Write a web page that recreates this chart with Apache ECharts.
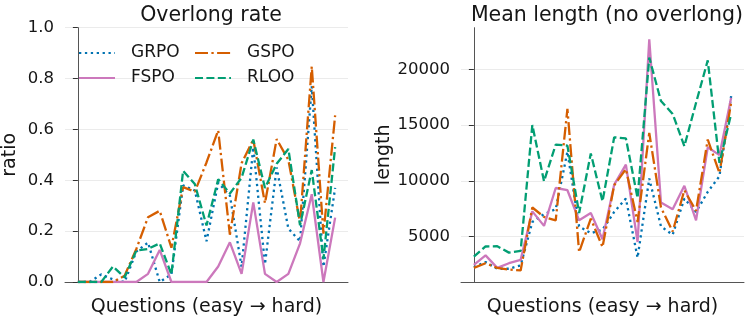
<!DOCTYPE html>
<html>
<head>
<meta charset="utf-8">
<script src="https://cdn.jsdelivr.net/npm/echarts@6/dist/echarts.min.js"></script>
<style>html,body{margin:0;padding:0;background:#fff}#chart{width:747px;height:322px}</style>
</head>
<body>
<div id="chart"></div>
<script>
// question index, easy -> hard
var questions = [0,1,2,3,4,5,6,7,8,9,10,11,12,13,14,15,16,17,18,19,20,21,22];

// overlong rate (ratio)
var grpoRate = [0,0,0.03,0.01,0,0.12,0.155,0,0.03,0.38,0.36,0.16,0.39,0.34,0.06,0.53,0.07,0.45,0.21,0.16,0.77,0.06,0.37];
var fspoRate = [0,0,0,0,0,0,0.032,0.126,0,0,0,0,0.061,0.156,0.032,0.313,0.032,0,0.032,0.152,0.345,0,0.253];
var gspoRate = [0,0,0,0,0.025,0.13,0.255,0.28,0.135,0.373,0.355,0.47,0.596,0.186,0.467,0.56,0.31,0.562,0.48,0.234,0.848,0.19,0.655];
var rlooRate = [0,0,0,0.061,0.018,0.124,0.13,0.152,0.03,0.437,0.385,0.222,0.404,0.348,0.41,0.56,0.37,0.465,0.523,0.223,0.44,0.09,0.53];

// mean length without overlong responses
var grpoLen = [2250,2700,2100,2100,2400,6300,7000,7450,12600,5900,5300,5600,7200,8400,3100,10200,5900,5150,8400,7200,9000,10400,17600];
var fspoLen = [2450,3300,2180,2600,2900,7250,5950,9350,9150,6450,7100,4750,9650,11450,4500,22700,8050,7450,9550,6450,13000,12300,17450];
var gspoLen = [2180,2600,2180,2030,1950,7600,6750,6450,16450,3600,6600,4050,9600,11050,6300,14300,7600,5450,9150,7300,13700,10700,17000];
var rlooLen = [3180,4100,4120,3550,3700,15000,9950,13250,13150,7100,12450,8150,13900,13800,8450,21050,17150,16000,13100,17000,20800,11600,16000];

var rateTicks = [0, 0.2, 0.4, 0.6, 0.8, 1.0];
var lenTicks = [5000, 10000, 15000, 20000];

var FONT = 'DejaVu Sans';
var INK = '#161616';

function pairs(ys) {
	return questions.map(function (q, i) { return [q, ys[i]]; });
}

// matplotlib style dash patterns
var styles = {
	GRPO: { color: '#0173b2', type: [2.3, 3.6] },
	FSPO: { color: '#cc78bc', type: 'solid' },
	GSPO: { color: '#d55e00', type: [13, 3.4, 2.3, 3.4] },
	RLOO: { color: '#029e73', type: [8, 3.4] }
};

function line(name, ys, idx) {
	var s = styles[name];
	return {
		name: name, type: 'line', xAxisIndex: idx, yAxisIndex: idx,
		data: pairs(ys), symbol: 'none', animation: false,
		color: s.color,
		itemStyle: { color: s.color, opacity: 0 },
		lineStyle: { color: s.color, width: 2.3, type: s.type, cap: 'butt' }
	};
}

var lenAll = grpoLen.concat(fspoLen, gspoLen, rlooLen);
var lenMin = Math.min.apply(null, lenAll), lenMax = Math.max.apply(null, lenAll);
var pad = (lenMax - lenMin) * 0.05;

var xMargin = (questions[questions.length - 1] - questions[0]) * 0.05;

function xAxis(idx) {
	return {
		type: 'value', gridIndex: idx,
		min: questions[0] - xMargin, max: questions[questions.length - 1] + xMargin,
		axisLine: { show: true, lineStyle: { color: '#555', width: 1 } },
		axisTick: { show: false }, axisLabel: { show: false }, splitLine: { show: false },
		name: 'Questions (easy \u2192 hard)', nameLocation: 'middle', nameGap: 16,
		nameTextStyle: { fontFamily: FONT, fontSize: 19, color: INK }
	};
}

function yAxisBase(idx, name, gap) {
	return {
		type: 'value', gridIndex: idx,
		axisLine: { show: true, lineStyle: { color: '#555', width: 1 } },
		axisTick: { show: true, length: 5, lineStyle: { color: '#333' } },
		axisLabel: { fontFamily: FONT, fontSize: 16.5, color: INK, margin: 11 },
		splitLine: { show: true, lineStyle: { color: '#ebebeb', width: 1 } },
		name: name, nameLocation: 'middle', nameGap: gap, nameRotate: 90,
		nameTextStyle: { fontFamily: FONT, fontSize: 19, color: INK }
	};
}

var yRate = yAxisBase(0, 'ratio', 45);
yRate.min = rateTicks[0];
yRate.max = rateTicks[rateTicks.length - 1];
yRate.interval = 0.2;
yRate.axisLabel.formatter = function (v) { return v.toFixed(1); };

var yLen = yAxisBase(1, 'length', 66);
yLen.min = lenMin - pad;
yLen.max = lenMax + pad;
yLen.axisTick.customValues = lenTicks;
yLen.axisLabel.customValues = lenTicks;
yLen.axisLabel.formatter = function (v) { return String(v); };

var legendCommon = {
	orient: 'vertical', itemWidth: 36, itemHeight: 14, itemGap: 5,
	itemStyle: { opacity: 0 },
	textStyle: { fontFamily: FONT, fontSize: 17, color: INK, lineHeight: 20, padding: [0, 0, 0, 11] }
};

var chart = echarts.init(document.getElementById('chart'), null, { renderer: 'canvas' });
chart.setOption({
	backgroundColor: '#fff',
	animation: false,
	title: [
		{ text: 'Overlong rate', left: 206, top: 0, textAlign: 'center',
		  textStyle: { fontFamily: FONT, fontSize: 20.5, fontWeight: 'normal', color: INK } },
		{ text: 'Mean length (no overlong)', left: 602, top: 0, textAlign: 'center',
		  textStyle: { fontFamily: FONT, fontSize: 20.5, fontWeight: 'normal', color: INK } }
	],
	legend: [
		Object.assign({}, legendCommon, { data: ['GRPO', 'FSPO'], left: 73, top: 38 }),
		Object.assign({}, legendCommon, { data: ['GSPO', 'RLOO'], left: 189, top: 38 })
	],
	grid: [
		{ left: 64, top: 27.7, width: 284, height: 267 },
		{ left: 461, top: 27.7, width: 283, height: 267 }
	],
	xAxis: [xAxis(0), xAxis(1)],
	yAxis: [yRate, yLen],
	series: [
		line('GRPO', grpoRate, 0), line('FSPO', fspoRate, 0), line('GSPO', gspoRate, 0), line('RLOO', rlooRate, 0),
		line('GRPO', grpoLen, 1), line('FSPO', fspoLen, 1), line('GSPO', gspoLen, 1), line('RLOO', rlooLen, 1)
	]
});
</script>
</body>
</html>
